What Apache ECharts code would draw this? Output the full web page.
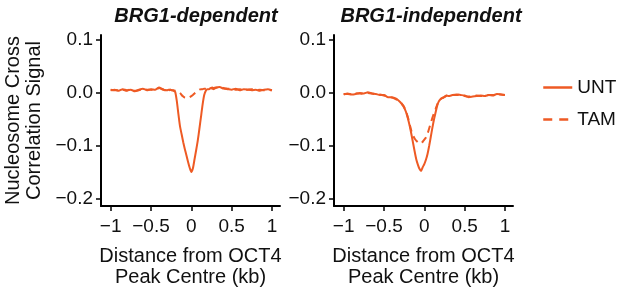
<!DOCTYPE html>
<html>
  <head>
    <meta charset="utf-8" />
    <title>Nucleosome cross correlation around OCT4 peaks</title>
    <style>
      body {
        margin: 0;
        padding: 0;
        background: #fff;
      }
      #chart {
        width: 617px;
        height: 292px;
      }
    </style>
  </head>
  <body>
    <div id="chart"></div>
    <script src="https://cdn.jsdelivr.net/npm/echarts@6/dist/echarts.min.js"></script>
    <script type="text/javascript">
      // distance from peak centre (kb), finer near the centre
      var xs = [
        -1, -0.95, -0.9, -0.85, -0.8, -0.75, -0.7, -0.65, -0.6, -0.55, -0.5, -0.45, -0.4, -0.35, -0.3,
        -0.28, -0.26, -0.24, -0.22, -0.2, -0.18, -0.16, -0.14, -0.12, -0.1, -0.08, -0.06, -0.04, -0.02,
        0, 0.02, 0.04, 0.06, 0.08, 0.1, 0.12, 0.14, 0.16, 0.18, 0.2, 0.22, 0.24, 0.26, 0.28,
        0.3, 0.35, 0.4, 0.45, 0.5, 0.55, 0.6, 0.65, 0.7, 0.75, 0.8, 0.85, 0.9, 0.95, 1
      ];

      // BRG1-dependent
      var depUnt = [
        0.005, 0.006, 0.004, 0.007, 0.005, 0.006, 0.003, 0.006, 0.008, 0.005, 0.007, 0.006, 0.01, 0.006, 0.005,
        0.006, 0.006, 0.005, 0.004, 0.002, -0.015, -0.04, -0.063, -0.078, -0.093, -0.106, -0.118, -0.13, -0.141,
        -0.149, -0.142, -0.125, -0.108, -0.09, -0.068, -0.045, -0.022, -0.004, 0.004, 0.007, 0.007, 0.009, 0.008, 0.007,
        0.009, 0.011, 0.008, 0.007, 0.006, 0.008, 0.005, 0.007, 0.006, 0.005, 0.006, 0.004, 0.006, 0.007, 0.005
      ];
      var depTam = [
        0.006, 0.005, 0.005, 0.006, 0.004, 0.007, 0.004, 0.005, 0.007, 0.006, 0.006, 0.005, 0.009, 0.007, 0.006,
        0.005, 0.006, 0.005, 0.005, 0.004, 0.003, 0.002, 0, -0.004, -0.007, -0.009, -0.01, -0.009, -0.008,
        -0.006, -0.004, -0.001, 0.002, 0.004, 0.006, 0.007, 0.007, 0.008, 0.008, 0.009, 0.008, 0.009, 0.01, 0.009,
        0.01, 0.011, 0.009, 0.008, 0.007, 0.006, 0.007, 0.005, 0.006, 0.007, 0.005, 0.006, 0.005, 0.006, 0.005
      ];

      // BRG1-independent
      var indUnt = [
        -0.003, -0.001, -0.003, -0.002, 0, -0.001, 0.001, -0.001, -0.002, -0.004, -0.004, -0.008, -0.008, -0.011, -0.017,
        -0.021, -0.025, -0.031, -0.039, -0.05, -0.063, -0.078, -0.094, -0.11, -0.125, -0.135, -0.143, -0.147, -0.14,
        -0.134, -0.126, -0.115, -0.1, -0.083, -0.066, -0.05, -0.037, -0.024, -0.016, -0.012, -0.01, -0.009, -0.006, -0.005,
        -0.006, -0.004, -0.003, -0.004, -0.005, -0.008, -0.007, -0.006, -0.005, -0.006, -0.004, -0.005, -0.002, -0.003, -0.004
      ];
      var indTam = [
        -0.002, -0.002, -0.003, -0.001, -0.001, -0.002, 0, -0.001, -0.003, -0.003, -0.005, -0.007, -0.009, -0.012, -0.016,
        -0.02, -0.024, -0.03, -0.038, -0.048, -0.06, -0.072, -0.08, -0.086, -0.09, -0.093, -0.095, -0.095, -0.092,
        -0.088, -0.084, -0.077, -0.067, -0.057, -0.047, -0.038, -0.03, -0.022, -0.016, -0.012, -0.01, -0.008, -0.007, -0.005,
        -0.005, -0.004, -0.004, -0.003, -0.006, -0.007, -0.006, -0.005, -0.006, -0.005, -0.004, -0.004, -0.003, -0.003, -0.004
      ];

      var panelTitles = ['BRG1-dependent', 'BRG1-independent'];
      var seriesNames = ['UNT', 'TAM'];
      var xTicks = [-1, -0.5, 0, 0.5, 1];
      var yTicks = [-0.2, -0.1, 0, 0.1];

      var orange = '#ee5a24';
      var font = 'Liberation Sans, Arial, sans-serif';

      function pairs(ys) {
        return xs.map(function (x, i) {
          return [x, ys[i]];
        });
      }

      function minus(s) {
        return String(s).replace('-', '\u2212');
      }

      function makeX(idx) {
        return {
          type: 'value',
          gridIndex: idx,
          min: -1.12,
          max: 1.1,
          name: 'Distance from OCT4\nPeak Centre (kb)',
          nameLocation: 'middle',
          nameGap: 40,
          nameTextStyle: { fontFamily: font, fontSize: 20, color: '#111', lineHeight: 21 },
          axisLine: { show: true, onZero: false, lineStyle: { color: '#000', width: 2 } },
          axisTick: { show: true, length: 5, customValues: xTicks, lineStyle: { color: '#000', width: 1.5 } },
          axisLabel: {
            customValues: xTicks,
            margin: 11,
            fontFamily: font,
            fontSize: 19,
            color: '#111',
            formatter: function (v) {
              return minus(v);
            }
          },
          splitLine: { show: false }
        };
      }

      function makeY(idx) {
        var y = {
          type: 'value',
          gridIndex: idx,
          min: -0.213,
          max: 0.109,
          axisLine: { show: true, onZero: false, lineStyle: { color: '#000', width: 2 } },
          axisTick: { show: true, length: 5, customValues: yTicks, lineStyle: { color: '#000', width: 1.5 } },
          axisLabel: {
            customValues: yTicks,
            margin: 8,
            fontFamily: font,
            fontSize: 19,
            color: '#111',
            formatter: function (v) {
              return minus(v.toFixed(1));
            }
          },
          splitLine: { show: false }
        };
        if (idx === 0) {
          y.name = 'Nucleosome Cross\nCorrelation Signal';
          y.nameLocation = 'middle';
          y.nameRotate = 90;
          y.nameGap = 56;
          y.nameTextStyle = { fontFamily: font, fontSize: 20, color: '#111', lineHeight: 21 };
        }
        return y;
      }

      function makeLine(name, idx, ys, dashed) {
        return {
          name: name,
          type: 'line',
          xAxisIndex: idx,
          yAxisIndex: idx,
          data: pairs(ys),
          showSymbol: false,
          symbol: 'none',
          smooth: 0.2,
          color: orange,
          lineStyle: { color: orange, width: 2, type: dashed ? [7, 5] : 'solid' },
          z: dashed ? 2 : 3
        };
      }

      var chart = echarts.init(document.getElementById('chart'), null, { renderer: 'canvas' });

      chart.setOption({
        animation: false,
        backgroundColor: '#fff',
        title: [
          {
            text: panelTitles[0],
            left: 191,
            top: 1,
            textAlign: 'center',
            textStyle: { fontFamily: font, fontSize: 20, fontWeight: 'bold', fontStyle: 'italic', color: '#111' }
          },
          {
            text: panelTitles[1],
            left: 426,
            top: 1,
            textAlign: 'center',
            textStyle: { fontFamily: font, fontSize: 20, fontWeight: 'bold', fontStyle: 'italic', color: '#111' }
          }
        ],
        legend: {
          orient: 'vertical',
          left: 537,
          top: 73,
          itemWidth: 29,
          itemHeight: 14,
          itemGap: 13,
          data: [
            { name: seriesNames[0] },
            { name: seriesNames[1], lineStyle: { type: [9, 7] } }
          ],
          itemStyle: { opacity: 0 },
          textStyle: { fontFamily: font, fontSize: 19, color: '#111' },
          lineStyle: { width: 2.5 }
        },
        grid: [
          { left: 101, top: 35, width: 179, height: 171, outerBoundsMode: 'none' },
          { left: 334, top: 35, width: 179, height: 171, outerBoundsMode: 'none' }
        ],
        xAxis: [makeX(0), makeX(1)],
        yAxis: [makeY(0), makeY(1)],
        series: [
          makeLine(seriesNames[0], 0, depUnt, false),
          makeLine(seriesNames[1], 0, depTam, true),
          makeLine(seriesNames[0], 1, indUnt, false),
          makeLine(seriesNames[1], 1, indTam, true)
        ]
      });
    </script>
  </body>
</html>
